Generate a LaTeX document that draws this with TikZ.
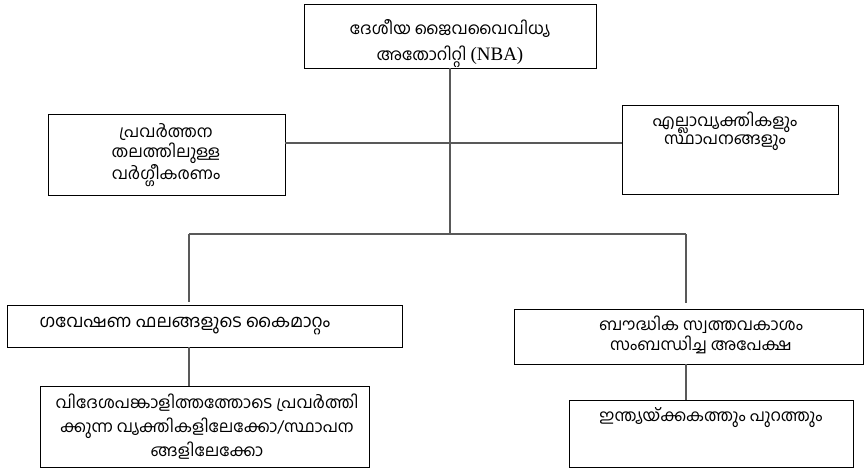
\documentclass[tikz,border=0pt]{standalone}
\usepackage{fontspec}
\setmainfont[Script=Malayalam]{Hind Kochi}
\newfontfamily\nbafont{Liberation Serif}
\tikzset{
  boxnode/.style={draw=black, line width=0.9pt, rectangle, inner sep=0pt},
  txt/.style={align=center, font=\fontsize{16.5}{20}\selectfont, inner sep=0pt},
  conn/.style={draw=black!65, line width=1.3pt}
}
\begin{document}
\begin{tikzpicture}[x=1pt,y=-1pt]
\useasboundingbox (0,0) rectangle (868,469);
% boxes
\node[boxnode, minimum width=292pt, minimum height=64pt] (top) at (450,36) {};
\node[boxnode, minimum width=237pt, minimum height=81pt] (A) at (166.5,154.5) {};
\node[boxnode, minimum width=216pt, minimum height=89pt] (B) at (730,149.5) {};
\node[boxnode, minimum width=395pt, minimum height=42pt] (C) at (204.5,326) {};
\node[boxnode, minimum width=349pt, minimum height=55pt] (D) at (688.5,336.5) {};
\node[boxnode, minimum width=329pt, minimum height=81pt] (E) at (204.5,426.5) {};
\node[boxnode, minimum width=284pt, minimum height=67pt] (F) at (711,433.5) {};
% texts
\node[txt, font=\fontsize{16.5}{26}\selectfont] (ttop) at (450,44) {ദേശീയ ജൈവവൈവിധ്യ\\അതോറിറ്റി {\fontsize{19}{26}\selectfont\nbafont (NBA)}};
\node[txt] (tA) at (166,155) {പ്രവർത്തന\\തലത്തിലുള്ള\\വർഗ്ഗീകരണം};
\node[txt, font=\fontsize{16.5}{18}\selectfont] (tB) at (725,131) {എല്ലാവ്യക്തികളും\\സ്ഥാപനങ്ങളും};
\node[txt, font=\fontsize{17.5}{20}\selectfont] (tC) at (185,326) {ഗവേഷണ ഫലങ്ങളുടെ കൈമാറ്റം};
\node[txt] (tD) at (701,335) {ബൗദ്ധിക സ്വത്തവകാശം\\സംബന്ധിച്ച അപേക്ഷ};
\node[txt, font=\fontsize{16.5}{24}\selectfont] (tE) at (207,427) {വിദേശപങ്കാളിത്തത്തോടെ പ്രവർത്തി\\ക്കുന്ന വ്യക്തികളിലേക്കോ/സ്ഥാപന\\ങ്ങളിലേക്കോ};
\node[txt] (tF) at (711,418) {ഇന്ത്യയ്ക്കകത്തും പുറത്തും};
% junctions
\coordinate (j1) at (450,143);
\coordinate (j2) at (450,234);
\coordinate (jl) at (189,234);
\coordinate (jr) at (686,234);
\coordinate (el) at (189,302);
\coordinate (er) at (686,303);
% connectors
\draw[conn] (top.south) -- (j2);
\draw[conn] (A.east |- j1) -- (B.west |- j1);
\draw[conn] (jl) -- (jr);
\draw[conn] (jl) -- (el);
\draw[conn] (jr) -- (er);
\draw[conn] (C.south -| el) -- (E.north -| el);
\draw[conn] (D.south -| er) -- (F.north -| er);
\end{tikzpicture}
\end{document}
